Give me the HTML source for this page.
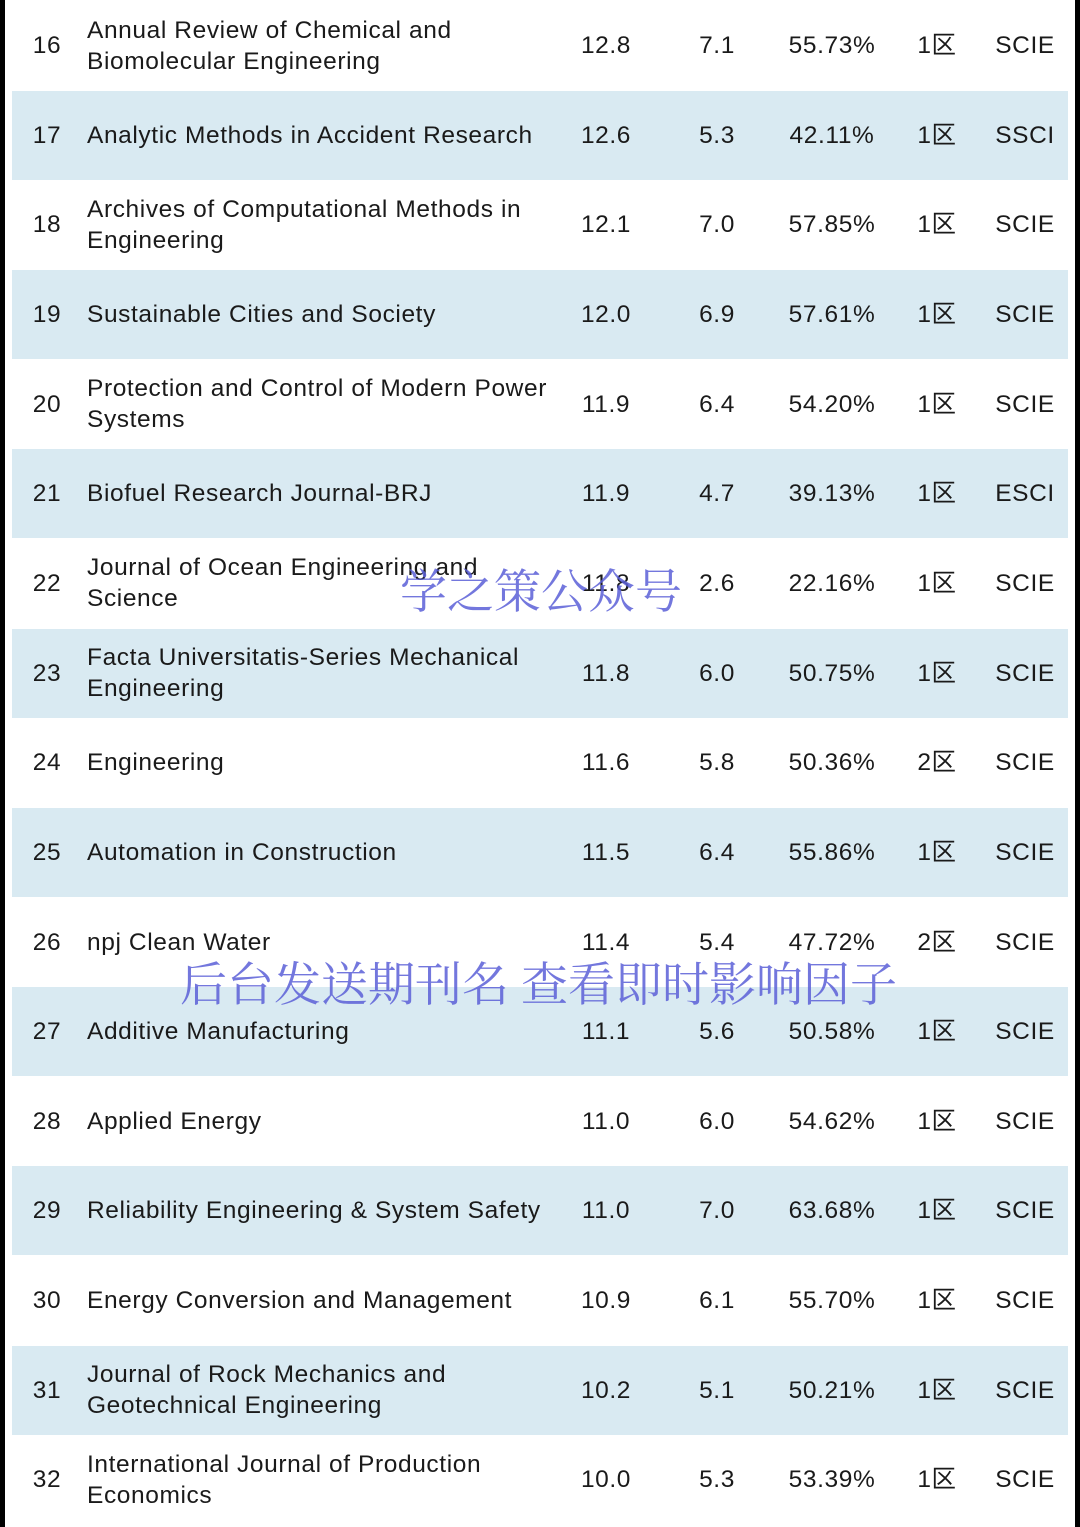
<!DOCTYPE html>
<html><head><meta charset="utf-8"><style>
body{margin:0;width:1080px;height:1527px;background:#fff;position:relative;overflow:hidden;font-family:"Liberation Sans","Noto Sans CJK SC",sans-serif;color:#1a1a1a}
.b{position:absolute;top:0;bottom:0;width:5px;background:#000}
.row{position:absolute;left:12px;width:1056px;height:89px}
.row.alt{background:#d9eaf2}
.c{position:absolute;top:0;height:89px;display:flex;align-items:center;font-size:24.5px;line-height:31px;letter-spacing:0.6px;white-space:nowrap}
.ctr{justify-content:center}
.wm{position:absolute;font-family:"Noto Serif CJK SC","Noto Sans CJK SC",serif;color:rgba(90,95,215,0.85);white-space:nowrap}
</style></head><body>
<div class="b" style="left:0"></div>
<div class="b" style="right:0"></div>
<div id="t"></div>
<div class="wm" style="left:400px;top:555px;font-size:47px">学之策公众号</div>
<div class="wm" style="left:180px;top:948px;font-size:47px">后台发送期刊名 查看即时影响因子</div>
<script>
const ranks=[16,17,18,19,20,21,22,23,24,25,26,27,28,29,30,31,32];
const names=["Annual Review of Chemical and<br>Biomolecular Engineering","Analytic Methods in Accident Research","Archives of Computational Methods in<br>Engineering","Sustainable Cities and Society","Protection and Control of Modern Power<br>Systems","Biofuel Research Journal-BRJ","Journal of Ocean Engineering and<br>Science","Facta Universitatis-Series Mechanical<br>Engineering","Engineering","Automation in Construction","npj Clean Water","Additive Manufacturing","Applied Energy","Reliability Engineering &amp; System Safety","Energy Conversion and Management","Journal of Rock Mechanics and<br>Geotechnical Engineering","International Journal of Production<br>Economics"];
const ifs=["12.8","12.6","12.1","12.0","11.9","11.9","11.8","11.8","11.6","11.5","11.4","11.1","11.0","11.0","10.9","10.2","10.0"];
const fiveY=["7.1","5.3","7.0","6.9","6.4","4.7","2.6","6.0","5.8","6.4","5.4","5.6","6.0","7.0","6.1","5.1","5.3"];
const pct=["55.73%","42.11%","57.85%","57.61%","54.20%","39.13%","22.16%","50.75%","50.36%","55.86%","47.72%","50.58%","54.62%","63.68%","55.70%","50.21%","53.39%"];
const zone=["1区","1区","1区","1区","1区","1区","1区","1区","2区","1区","2区","1区","1区","1区","1区","1区","1区"];
const idx=["SCIE","SSCI","SCIE","SCIE","SCIE","ESCI","SCIE","SCIE","SCIE","SCIE","SCIE","SCIE","SCIE","SCIE","SCIE","SCIE","SCIE"];
const t=document.getElementById('t');
ranks.forEach((r,i)=>{
 const row=document.createElement('div');
 row.className='row'+(i%2?' alt':'');
 row.style.top=(1+i*89.65)+'px';
 
 
 const cells=[[r,15,40,'rank'],[names[i],75,480,'journal-name'],[ifs[i],554,80,'impact-factor'],[fiveY[i],665,80,'five-year-if'],[pct[i],760,120,'percentage'],[zone[i],885,80,'zone'],[idx[i],973,80,'index']];
 cells.forEach(([txt,x,w,n],j)=>{
  const c=document.createElement('div');
  c.className='c'+(j==1?'':' ctr');
  c.style.left=x+'px';c.style.width=w+'px';
  c.innerHTML='<span>'+txt+'</span>';
  
  
  row.appendChild(c);
 });
 t.appendChild(row);
});
</script>
</body></html>
